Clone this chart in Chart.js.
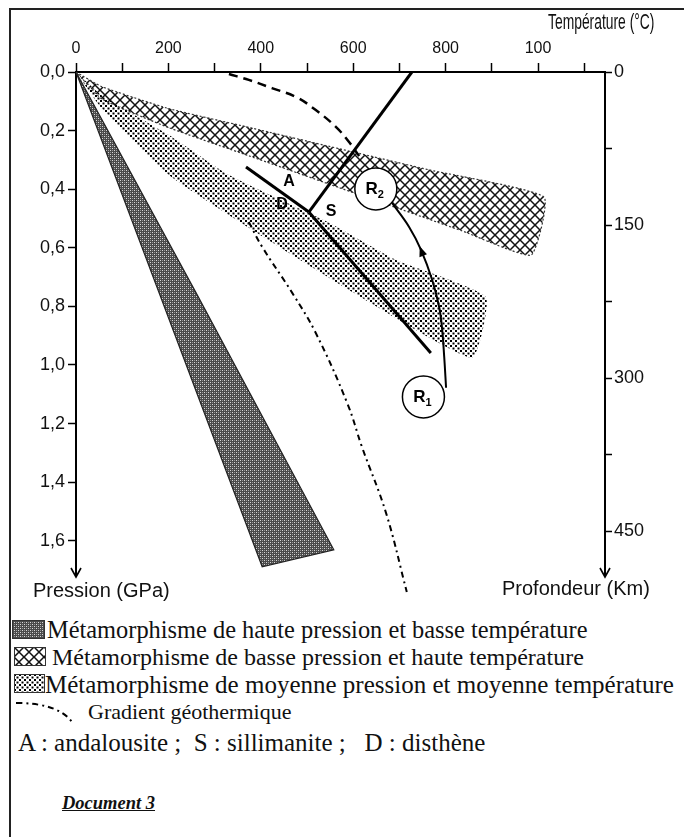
<!DOCTYPE html>
<html lang="fr">
<head>
<meta charset="utf-8">
<title>Document 3 - Métamorphisme</title>
<script src="https://cdn.jsdelivr.net/npm/chart.js@4.4.1/dist/chart.umd.min.js"></script>
<style>
  body { margin: 0; background: #fff; }
  #page { position: relative; width: 684px; height: 837px; overflow: hidden; color: #111; font-family: 'Liberation Serif', 'Times New Roman', serif; }
  #chart-box { position: absolute; left: 0; top: 0; width: 684px; height: 610px; }
  .frame-left { position: absolute; left: 9px; top: 8px; width: 2px; height: 829px; background: #222; }
  .frame-top { position: absolute; left: 9px; top: 8px; width: 675px; height: 2px; background: #222; }
  .axis-title { position: absolute; font-family: 'Liberation Sans', sans-serif; font-size: 20px; line-height: 1; white-space: nowrap; }
  .narrow { font-size: 22px; transform: scaleX(0.63); transform-origin: left center; }
  .swatch { position: absolute; }
  .legend-text { position: absolute; line-height: 1; white-space: nowrap; }
  .doc-title { position: absolute; left: 62px; top: 794px; font-size: 18.5px; line-height: 1; font-weight: bold; font-style: italic; text-decoration: underline; }
</style>
</head>
<body>
<div id="page">
  <div class="frame-left"></div>
  <div class="frame-top"></div>
  <div id="chart-box"><canvas id="chart" width="684" height="610"></canvas></div>

  <span class="axis-title narrow" style="left:548px; top:11px;">Température (°C)</span>
  <span class="axis-title" style="left:33px; top:580px;">Pression (GPa)</span>
  <span class="axis-title" style="left:502px; top:578px;">Profondeur (Km)</span>

  <canvas class="swatch" id="sw-hp" width="33" height="19" style="left:12px; top:620px;"></canvas>
  <span class="legend-text" style="left:47px; top:618px; font-size:24.4px;">Métamorphisme de haute pression et basse température</span>
  <canvas class="swatch" id="sw-cross" width="32" height="19" style="left:14px; top:647px;"></canvas>
  <span class="legend-text" style="left:52px; top:645px; font-size:24px;">Métamorphisme de basse pression et haute température</span>
  <canvas class="swatch" id="sw-dots" width="31" height="19" style="left:14px; top:674px;"></canvas>
  <span class="legend-text" style="left:45px; top:672px; font-size:25px;">Métamorphisme de moyenne pression et moyenne température</span>
  <canvas class="swatch" id="sw-grad" width="66" height="26" style="left:14px; top:699px;"></canvas>
  <span class="legend-text" style="left:88px; top:701px; font-size:22px;">Gradient géothermique</span>
  <span class="legend-text" style="left:18px; top:730px; font-size:25px;">A : andalousite ;&nbsp; S : sillimanite ;&nbsp;&nbsp; D : disthène</span>

  <span class="doc-title">Document 3</span>
</div>

<script>
// --- AXES ---
const TEMP_MAX = 1145;       // right end of the temperature axis (°C)
const PRESSURE_MAX = 1.717;  // arrow tip of the pressure axis (GPa)
const DEPTH_MAX = 493;       // arrow tip of the depth axis (km)

const tempTicks = [0, 100, 200, 300, 400, 500, 600, 700, 800, 900, 1000, 1100];
const tempLabelled = [0, 200, 400, 600, 800, 1000];
const tempLabelText = ['0', '200', '400', '600', '800', '100'];   // "100" as printed on the document
const pressureTicks = [0, 0.2, 0.4, 0.6, 0.8, 1.0, 1.2, 1.4, 1.6];
const depthTicks = [0, 75, 150, 225, 300, 375, 450];
const depthLabelled = [0, 150, 300, 450];

// --- METAMORPHIC DOMAINS (outline: one edge outwards, the other edge back to the origin) ---
const hpBandT = [0, 403, 558, 262, 0];
const hpBandP = [0, 1.689, 1.631, 0.760, 0];

const crossBandT = [0, 56, 201, 374, 597, 764, 1013, 985, 835, 606, 374, 201, 56, 0];
const crossBandP = [0, 0.050, 0.125, 0.189, 0.272, 0.334, 0.427, 0.625, 0.542, 0.415, 0.286, 0.190, 0.092, 0];

const mpBandT = [0, 56, 201, 331, 548, 693, 887, 857, 591, 374, 201, 56, 0];
const mpBandP = [0, 0.080, 0.215, 0.352, 0.515, 0.642, 0.768, 0.976, 0.744, 0.532, 0.352, 0.125, 0];

// --- GEOTHERMAL GRADIENTS ---
const hotGradT = [331, 374, 424, 476, 519, 563, 591, 613];
const hotGradP = [0.007, 0.027, 0.055, 0.085, 0.130, 0.188, 0.239, 0.287];
const coldGradT = [374, 403, 468, 519, 587, 619, 671, 716];
const coldGradP = [0.512, 0.597, 0.754, 0.891, 1.130, 1.280, 1.505, 1.775];

// --- Al2SiO5 TRIPLE POINT (A / S / D) ---
const adLineT = [368, 504];
const adLineP = [0.324, 0.478];
const dsLineT = [504, 768];
const dsLineP = [0.478, 0.959];
const asLineT = [504, 727];
const asLineP = [0.478, 0];

const mineralNames = ['A', 'D', 'S'];
const mineralT = [461, 446, 552];
const mineralP = [0.375, 0.454, 0.478];

// --- REGIONS R1 / R2 AND THE PATH BETWEEN THEM ---
const regionNames = ['1', '2'];
const regionT = [752, 649];
const regionP = [1.109, 0.399];
const rPathT = [801, 797, 792, 786, 771, 747, 721, 684];
const rPathP = [1.078, 0.973, 0.870, 0.802, 0.710, 0.608, 0.529, 0.447];

// --- HELPERS ---
const SANS = "'Liberation Sans', sans-serif";

/** Pairs a temperature list and a pressure list into {x, y} points. */
function toPoints(ts, ps) {
    return ts.map((t, i) => ({ x: t, y: ps[i] }));
}

/**
 * Builds a small repeating canvas for the scanned textures.
 * @param {string} kind 'hp' (dark grain), 'cross' (cross-hatching) or 'dots'.
 */
function makeTile(kind) {
    const c = document.createElement('canvas');
    const g = c.getContext('2d');
    if (kind === 'hp') {
        c.width = c.height = 4;
        g.fillStyle = '#4a4a4a'; g.fillRect(0, 0, 4, 4);
        g.fillStyle = '#d8d8d8'; g.fillRect(0, 0, 1, 1); g.fillRect(2, 2, 1, 1);
        g.fillStyle = '#959595'; g.fillRect(2, 0, 1, 1); g.fillRect(0, 2, 1, 1);
    } else if (kind === 'cross') {
        c.width = c.height = 10;
        g.strokeStyle = '#111'; g.lineWidth = 1.5;
        g.beginPath();
        g.moveTo(-1, -1); g.lineTo(11, 11);
        g.moveTo(-1, 11); g.lineTo(11, -1);
        g.stroke();
    } else {
        c.width = c.height = 5;
        g.fillStyle = '#000';
        g.fillRect(0, 0, 2, 2);
        g.fillRect(2.5, 2.5, 2, 2);
    }
    return c;
}

const chartCtx = document.getElementById('chart').getContext('2d');
const hpPattern = chartCtx.createPattern(makeTile('hp'), 'repeat');
const crossPattern = chartCtx.createPattern(makeTile('cross'), 'repeat');
const dotsPattern = chartCtx.createPattern(makeTile('dots'), 'repeat');

// --- DECORATION PLUGIN: axis arrows, circle names, mineral letters, path arrow ---
const decorPlugin = {
    id: 'decor',
    afterDraw(chart) {
        const { ctx, chartArea, scales: { x, y } } = chart;
        ctx.save();
        ctx.strokeStyle = '#000';
        ctx.fillStyle = '#000';
        ctx.lineWidth = 1.6;

        // down arrows at the foot of both vertical axes
        [chartArea.left, chartArea.right].forEach(ax => {
            const tip = chartArea.bottom + 2;
            ctx.beginPath();
            ctx.moveTo(ax - 5, tip - 9);
            ctx.lineTo(ax, tip);
            ctx.lineTo(ax + 5, tip - 9);
            ctx.stroke();
        });

        // R1 / R2 names inside the circles
        regionNames.forEach((n, i) => {
            const px = x.getPixelForValue(regionT[i]);
            const py = y.getPixelForValue(regionP[i]);
            ctx.font = `bold 17px ${SANS}`;
            ctx.textAlign = 'right';
            ctx.textBaseline = 'alphabetic';
            ctx.fillText('R', px + 2, py + 5);
            ctx.font = `bold 11px ${SANS}`;
            ctx.textAlign = 'left';
            ctx.fillText(n, px + 2, py + 9);
        });

        // mineral letters around the triple point
        ctx.font = `bold 16px ${SANS}`;
        ctx.textAlign = 'center';
        ctx.textBaseline = 'middle';
        mineralNames.forEach((n, i) => {
            ctx.fillText(n, x.getPixelForValue(mineralT[i]), y.getPixelForValue(mineralP[i]));
        });

        // arrowhead on the R1 -> R2 path
        const k = 5;
        const ax = x.getPixelForValue(rPathT[k]), ay = y.getPixelForValue(rPathP[k]);
        const bx = x.getPixelForValue(rPathT[k - 1]), by = y.getPixelForValue(rPathP[k - 1]);
        const a = Math.atan2(ay - by, ax - bx);
        ctx.beginPath();
        ctx.moveTo(ax + 4 * Math.cos(a), ay + 4 * Math.sin(a));
        ctx.lineTo(ax - 6 * Math.cos(a) + 4 * Math.sin(a), ay - 6 * Math.sin(a) - 4 * Math.cos(a));
        ctx.lineTo(ax - 6 * Math.cos(a) - 4 * Math.sin(a), ay - 6 * Math.sin(a) + 4 * Math.cos(a));
        ctx.closePath();
        ctx.fill();
        ctx.restore();
    }
};

// --- CHART ---
const line = (pts, extra) => Object.assign({
    data: pts, borderColor: '#000', borderWidth: 3, pointRadius: 0, fill: false, tension: 0
}, extra);

new Chart(chartCtx, {
    type: 'line',
    data: {
        datasets: [
            // circles first so they are drawn on top
            line(toPoints(regionT, regionP), {
                showLine: false, pointRadius: 21, pointBackgroundColor: '#fff',
                pointBorderColor: '#000', pointBorderWidth: 1.5
            }),
            line(toPoints(rPathT, rPathP), { borderWidth: 2, tension: 0.4 }),
            line(toPoints(asLineT, asLineP)),
            line(toPoints(dsLineT, dsLineP)),
            line(toPoints(adLineT, adLineP)),
            line(toPoints(hotGradT, hotGradP), { borderWidth: 2.5, borderDash: [9, 6], tension: 0.4 }),
            line(toPoints(coldGradT, coldGradP), { borderWidth: 2, borderDash: [6, 4, 2, 4], tension: 0.4, clip: false }),
            line(toPoints(mpBandT, mpBandP), { borderWidth: 0, backgroundColor: dotsPattern, fill: 'shape', tension: 0.15 }),
            line(toPoints(crossBandT, crossBandP), {
                borderWidth: 1.2, borderDash: [2, 2], borderColor: '#333', backgroundColor: crossPattern, fill: 'shape', tension: 0.15
            }),
            line(toPoints(hpBandT, hpBandP), { borderWidth: 1.2, borderColor: '#222', backgroundColor: hpPattern, fill: 'shape' })
        ]
    },
    options: {
        responsive: false,
        animation: false,
        events: [],
        layout: { padding: { top: 0, left: 0, right: 0, bottom: 35 } },
        plugins: { legend: { display: false }, tooltip: { enabled: false } },
        scales: {
            x: {
                type: 'linear', position: 'top', min: 0, max: TEMP_MAX,
                afterBuildTicks: s => { s.ticks = tempTicks.map(v => ({ value: v })); },
                afterFit: s => { s.height = 72; },
                ticks: {
                    autoSkip: false, maxRotation: 0, padding: 5, color: '#111',
                    font: { family: SANS, size: 16 },
                    callback: v => { const i = tempLabelled.indexOf(v); return i >= 0 ? tempLabelText[i] : ''; }
                },
                grid: { drawOnChartArea: false, tickLength: 9, tickWidth: 1.5, tickColor: '#000' },
                border: { display: true, color: '#000', width: 2 }
            },
            y: {
                type: 'linear', position: 'left', reverse: true, min: 0, max: PRESSURE_MAX,
                afterBuildTicks: s => { s.ticks = pressureTicks.map(v => ({ value: v })); },
                afterFit: s => { s.width = 76; },
                ticks: {
                    autoSkip: false, padding: 3, color: '#111',
                    font: { family: SANS, size: 18 },
                    callback: v => v.toFixed(1).replace('.', ',')
                },
                grid: { drawOnChartArea: false, tickLength: 8, tickWidth: 1.5, tickColor: '#000' },
                border: { display: true, color: '#000', width: 2 }
            },
            depth: {
                type: 'linear', position: 'right', reverse: true, min: 0, max: DEPTH_MAX,
                afterBuildTicks: s => { s.ticks = depthTicks.map(v => ({ value: v })); },
                afterFit: s => { s.width = 79; },
                ticks: {
                    autoSkip: false, padding: 2, color: '#111',
                    font: { family: SANS, size: 18 },
                    callback: v => depthLabelled.includes(v) ? String(v) : ''
                },
                grid: { drawOnChartArea: false, tickLength: 7, tickWidth: 1.5, tickColor: '#000' },
                border: { display: true, color: '#000', width: 2 }
            }
        }
    },
    plugins: [decorPlugin]
});

// --- LEGEND SWATCHES ---
/** Fills a legend swatch canvas with one of the textures. */
function paintSwatch(id, kind) {
    const c = document.getElementById(id);
    const g = c.getContext('2d');
    g.fillStyle = g.createPattern(makeTile(kind), 'repeat');
    g.fillRect(0, 0, c.width, c.height);
    g.strokeStyle = '#333';
    g.lineWidth = 1;
    g.strokeRect(0.5, 0.5, c.width - 1, c.height - 1);
}
paintSwatch('sw-hp', 'hp');
paintSwatch('sw-cross', 'cross');
paintSwatch('sw-dots', 'dots');

// small dash-dot curve next to "Gradient géothermique"
const gc = document.getElementById('sw-grad').getContext('2d');
gc.strokeStyle = '#000';
gc.lineWidth = 2;
gc.setLineDash([6, 4, 2, 4]);
gc.beginPath();
gc.moveTo(2, 4);
gc.quadraticCurveTo(44, 4, 58, 23);
gc.stroke();
</script>
</body>
</html>
